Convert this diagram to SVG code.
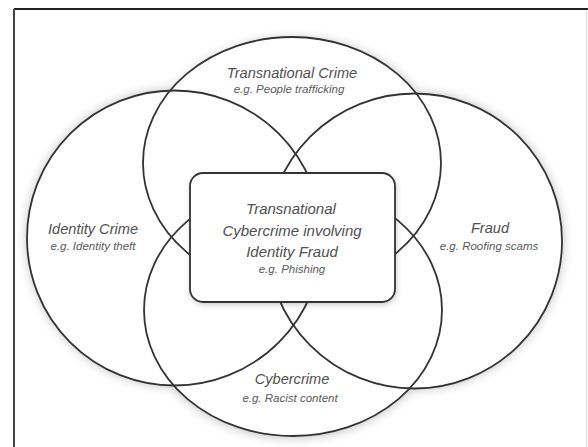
<svg xmlns="http://www.w3.org/2000/svg" width="588" height="447" viewBox="0 0 588 447">
  <style>
    .ring { fill: none; stroke: #333; stroke-width: 1.8; }
    .fillw { fill: #fff; stroke: none; }
    .t { font-family: "Liberation Sans", Arial, sans-serif; font-style: italic; fill: #505050; text-anchor: middle; }
    .title { font-size: 14.6px; }
    .sub { font-size: 11.5px; fill: #5a5a5a; }
    .ctitle { font-size: 15px; }
  </style>
  <defs>
    <filter id="shadow" x="-20%" y="-20%" width="140%" height="140%">
      <feGaussianBlur stdDeviation="6"/>
    </filter>
    <filter id="boxshadow" x="-20%" y="-20%" width="140%" height="140%">
      <feGaussianBlur stdDeviation="3"/>
    </filter>
  </defs>
  <rect x="0" y="0" width="588" height="447" fill="#fff"/>
  <!-- frame -->
  <line x1="14" y1="9" x2="588" y2="9" stroke="#222" stroke-width="2"/>
  <line x1="14" y1="9" x2="14" y2="447" stroke="#444" stroke-width="2"/>
  <line x1="586.5" y1="10" x2="586.5" y2="447" stroke="#e2e2e2" stroke-width="1.5"/>

  <!-- soft shadow behind the union of shapes -->
  <g filter="url(#shadow)" fill="#000" opacity="0.28">
    <ellipse cx="294" cy="165" rx="149" ry="126"/>
    <ellipse cx="293" cy="311" rx="149" ry="126"/>
    <circle cx="175" cy="238" r="147.5"/>
    <circle cx="414.5" cy="241" r="147.5"/>
  </g>
  <g>
    <ellipse class="fillw" cx="292" cy="163" rx="149" ry="126"/>
    <ellipse class="fillw" cx="293" cy="310" rx="149" ry="126"/>
    <circle class="fillw" cx="174.5" cy="238" r="147.5"/>
    <circle class="fillw" cx="414.5" cy="241" r="147.5"/>
  </g>

  <g id="transnational-crime">
    <ellipse class="ring" cx="292" cy="163" rx="149" ry="126"/>
    <text class="t title" x="292" y="78">Transnational Crime</text>
    <text class="t sub" x="289" y="93">e.g. People trafficking</text>
  </g>
  <g id="identity-crime">
    <circle class="ring" cx="174.5" cy="238" r="147.5"/>
    <text class="t title" x="93" y="234">Identity Crime</text>
    <text class="t sub" x="93" y="250">e.g. Identity theft</text>
  </g>
  <g id="fraud">
    <circle class="ring" cx="414.5" cy="241" r="147.5"/>
    <text class="t title" x="490" y="233">Fraud</text>
    <text class="t sub" x="489" y="250">e.g. Roofing scams</text>
  </g>
  <g id="cybercrime">
    <ellipse class="ring" cx="293" cy="310" rx="149" ry="126"/>
    <text class="t title" x="292" y="384">Cybercrime</text>
    <text class="t sub" x="290" y="402">e.g. Racist content</text>
  </g>

  <g id="transnational-cybercrime-identity-fraud">
    <rect x="191" y="175" width="205" height="129" rx="13" fill="#000" opacity="0.25" filter="url(#boxshadow)"/>
    <rect x="190" y="173" width="205" height="129" rx="13" fill="#fff" stroke="#333" stroke-width="1.8"/>
    <text class="t ctitle" x="291" y="214">Transnational</text>
    <text class="t ctitle" x="292" y="236">Cybercrime involving</text>
    <text class="t ctitle" x="292" y="257">Identity Fraud</text>
    <text class="t sub" x="292" y="273">e.g. Phishing</text>
  </g>
  <g id="connectors"></g>
</svg>
